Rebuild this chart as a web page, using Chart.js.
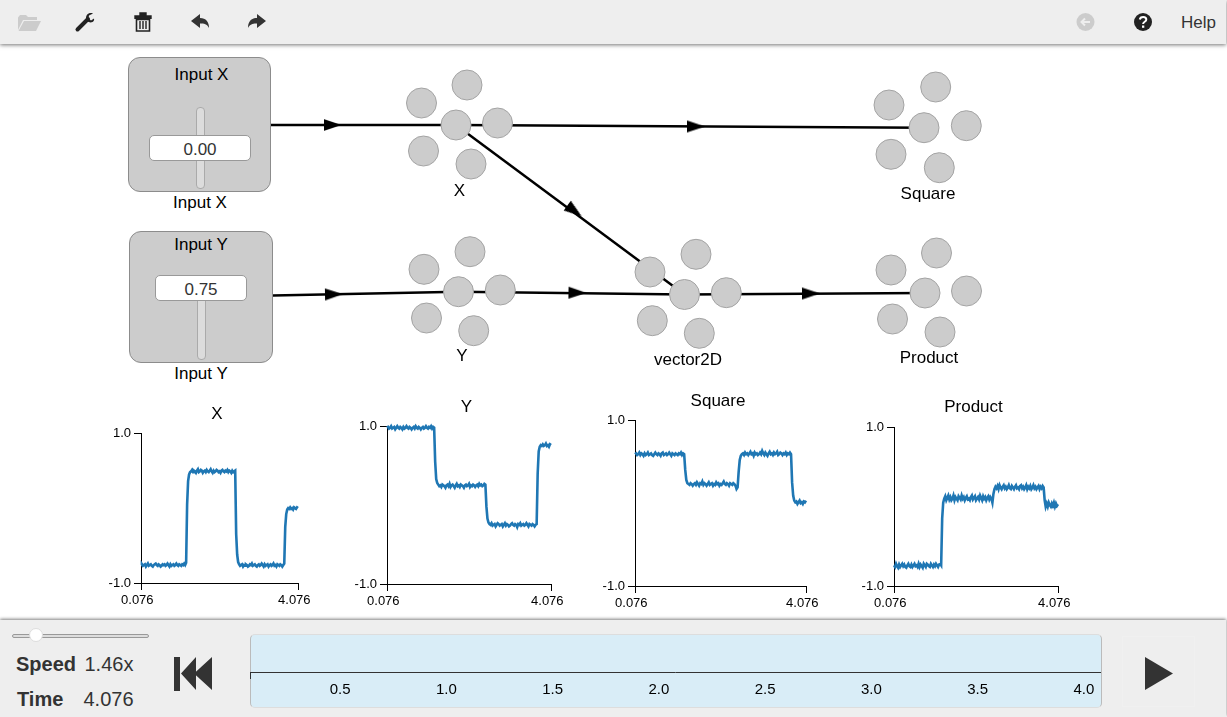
<!DOCTYPE html>
<html>
<head>
<meta charset="utf-8">
<title>Nengo</title>
<script src="https://cdn.jsdelivr.net/npm/chart.js@4"></script>
<style>
html,body{margin:0;padding:0;width:1227px;height:717px;overflow:hidden;background:#fff;font-family:"Liberation Sans",Arial,sans-serif;color:#000}
.abs{position:absolute}
.t{position:absolute;white-space:nowrap;transform:translate(-50%,-50%);line-height:1;font-size:17px}
.l{position:absolute;white-space:nowrap;transform:translateY(-50%);line-height:1;color:#333}
#top{position:absolute;left:0;top:0;width:1226px;height:44px;background:#eee;box-shadow:0 1px 4px rgba(0,0,0,.55)}
#bot{position:absolute;left:0;top:620px;width:1226px;height:97px;background:#eee;box-shadow:0 -1px 3px rgba(0,0,0,.5)}
.box{position:absolute;box-sizing:border-box;background:#ccc;border:1px solid #8c8c8c;border-radius:12px}
.track{position:absolute;box-sizing:border-box;background:#dcdcdc;border:1px solid #aaa;border-radius:4px}
.val{position:absolute;box-sizing:border-box;background:#fff;border:1px solid #999;border-radius:5px;text-align:center;font-size:17px;color:#333}
canvas{position:absolute;display:block}
</style>
</head>
<body>
<div id="top"></div>
<div id="bot"></div>

<svg class="abs" style="left:0;top:0" width="1227" height="717">
  <path d="M18 30V17.5L20 15h6l2 2h9v3H23z" fill="#ccc"/>
  <path d="M18.5 31L24 21h17l-5 10z" fill="#ccc"/>
  <path d="M77.5 29.5L88 19" stroke="#222" stroke-width="4" stroke-linecap="round" fill="none"/>
  <path d="M93 13.5c-3-1.5-7 .5-7 4.5 0 3 3.500 5.500 6.500 4 1-.5 2-1.500 1.500-3.500l-3 2-2.500-2 .5-3z" fill="#222"/>
  <path d="M135 16h16v2.200h-16z M140 16v-3h6v3" fill="#222" stroke="#222" stroke-width="1.400"/>
  <path d="M136.500 19.500h13V31h-13z" fill="none" stroke="#222" stroke-width="1.600"/>
  <path d="M140 21v8M143 21v8M146 21v8" stroke="#222" stroke-width="1.400"/>
  <path d="M191 21L200 14V18C206 18 209 22 209 28C207 24 204 23.500 200 23.500V28Z" fill="#333"/>
  <path d="M266 21L257 14V18C251 18 248 22 248 28C250 24 253 23.500 257 23.500V28Z" fill="#333"/>
  <circle cx="1085.500" cy="22" r="9" fill="#ccc"/>
  <path d="M1090 22h-8M1085 18.500L1081.500 22l3.500 3.500" stroke="#eee" stroke-width="2" fill="none"/>
  <circle cx="1143" cy="22" r="9" fill="#222"/>
  <path d="M1139.800 19.500c.5-3.500 6.500-3.500 6.500 0 0 2.500-3.200 2-3.200 4.500" stroke="#fff" stroke-width="2" fill="none"/>
  <path d="M1142 25.500h2.300v2.300H1142z" fill="#fff"/>
  <path d="M174 657h6v34h-6z M181 673.500L196 657V690Z M194 673.500L212 657V690Z" fill="#333"/>
  <path d="M1145 657L1173 673.500L1145 690Z" fill="#333"/>
</svg>

<div class="abs" style="left:1122px;top:636px;width:73px;height:71px;box-sizing:border-box;border:1px solid #f0f0f0"></div>
<div class="abs" style="left:12px;top:634px;width:137px;height:4px;box-sizing:border-box;background:#ddd;border:1px solid #999;border-radius:2px"></div>
<div class="abs" style="left:29px;top:628px;width:14px;height:14px;box-sizing:border-box;background:#fff;border:1px solid #ddd;border-radius:50%"></div>
<div class="l" style="left:16px;top:664px;font-size:20px;font-weight:bold">Speed</div>
<div class="l" style="left:84.500px;top:664px;font-size:20px">1.46x</div>
<div class="l" style="left:17px;top:699px;font-size:20px;font-weight:bold">Time</div>
<div class="l" style="left:83.500px;top:699px;font-size:20px">4.076</div>
<div class="l" style="left:1181px;top:22px;font-size:17px">Help</div>

<div class="abs" style="left:250px;top:634px;width:852px;height:74px;box-sizing:border-box;background:#d9edf7;border:1px solid #ddd;border-left-color:#bbb;border-right-color:#bbb;border-radius:5px"></div>

<div class="box" style="left:128px;top:57px;width:143px;height:135px"></div>
<div class="track" style="left:196px;top:107px;width:9px;height:82px"></div>
<div class="val" style="left:149px;top:135px;width:102px;height:26px;line-height:28px">0.00</div>
<div class="t" style="left:201.500px;top:74px">Input X</div>
<div class="t" style="left:200px;top:201.800px">Input X</div>

<div class="box" style="left:129px;top:231px;width:144px;height:132px"></div>
<div class="track" style="left:197px;top:296px;width:9px;height:64px"></div>
<div class="val" style="left:155px;top:275px;width:92px;height:26px;line-height:28px">0.75</div>
<div class="t" style="left:201px;top:244px">Input Y</div>
<div class="t" style="left:201px;top:372.800px">Input Y</div>

<canvas id="net" width="1227" height="717" style="left:0;top:0;pointer-events:none"></canvas>

<div class="t" style="left:459.500px;top:190.300px">X</div>
<div class="t" style="left:462px;top:355.300px">Y</div>
<div class="t" style="left:688px;top:359.300px">vector2D</div>
<div class="t" style="left:928px;top:192.800px">Square</div>
<div class="t" style="left:929px;top:356.800px">Product</div>

<canvas id="plotX"></canvas>
<canvas id="plotY"></canvas>
<canvas id="plotSquare"></canvas>
<canvas id="plotProduct"></canvas>
<canvas id="timeline"></canvas>

<script>
/* ---------- chart data ---------- */
const plotTitles = ["X", "Y", "Square", "Product"];
const yTickValues = [-1.0, 1.0];
const xTickValues = [0.076, 4.076];
const timelineTicks = [0.076, 0.5, 1.0, 1.5, 2.0, 2.5, 3.0, 3.5, 4.0];

const times = [
 0.076,0.101,0.126,0.151,0.176,0.201,0.226,0.251,0.276,0.301,
 0.326,0.351,0.376,0.401,0.426,0.451,0.476,0.501,0.526,0.551,
 0.576,0.601,0.626,0.651,0.676,0.701,0.726,0.751,0.776,0.801,
 0.826,0.851,0.876,0.901,0.926,0.951,0.976,1.001,1.026,1.051,
 1.076,1.101,1.126,1.151,1.176,1.201,1.226,
 1.251,1.276,1.301,1.326,1.351,1.376,1.401,1.426,1.451,1.476,
 1.501,1.526,1.551,1.576,1.601,1.626,1.651,1.676,1.701,1.726,
 1.751,1.776,1.801,1.826,1.851,1.876,1.901,1.926,1.951,1.976,
 2.001,2.026,2.051,2.076,2.101,2.126,2.151,2.176,2.201,2.226,
 2.251,2.276,2.301,2.326,2.351,2.376,2.401,2.426,2.451,2.476,
 2.501,2.526,2.551,2.576,2.601,2.626,2.651,2.676,2.701,2.726,
 2.751,2.776,2.801,2.826,2.851,2.876,2.901,2.926,2.951,2.976,
 3.001,3.026,3.051,3.076,3.101,3.126,3.151,3.176,3.201,3.226,
 3.251,3.276,3.301,3.326,3.351,3.376,3.401,3.426,3.451,3.476,
 3.501,3.526,3.551,3.576,3.601,3.626,3.651,3.676,3.701,3.726,
 3.751,3.776,3.801,3.826,3.851,3.876,3.901,3.926,3.951,3.976,4.001,4.026,4.051,4.076];

const seriesX = [
 -0.76,-0.75,-0.77,-0.76,-0.75,-0.78,-0.76,-0.74,-0.77,-0.76,
 -0.75,-0.77,-0.78,-0.76,-0.75,-0.74,-0.76,-0.77,-0.75,-0.76,
 -0.78,-0.77,-0.75,-0.76,-0.75,-0.77,-0.76,-0.74,-0.76,-0.78,
 -0.75,-0.77,-0.76,-0.75,-0.77,-0.76,-0.74,-0.76,-0.77,-0.75,
 -0.76,-0.77,-0.75,-0.76,-0.74,-0.76,-0.73,
 0.05,0.36,0.45,0.48,0.49,0.51,0.48,0.50,0.49,0.47,
 0.50,0.52,0.48,0.49,0.51,0.50,0.47,0.49,0.50,0.48,
 0.51,0.49,0.48,0.50,0.52,0.49,0.47,0.50,0.48,0.49,
 0.51,0.50,0.48,0.49,0.47,0.50,0.51,0.49,0.48,0.50,
 0.49,0.51,0.48,0.50,0.49,0.47,0.50,0.48,0.49,0.50,
 -0.35,-0.62,-0.72,-0.75,-0.77,-0.76,-0.75,-0.78,-0.76,-0.77,
 -0.75,-0.76,-0.78,-0.77,-0.75,-0.76,-0.74,-0.77,-0.76,-0.75,
 -0.77,-0.78,-0.76,-0.75,-0.77,-0.76,-0.74,-0.76,-0.78,-0.75,
 -0.77,-0.76,-0.75,-0.78,-0.76,-0.75,-0.77,-0.76,-0.74,-0.77,
 -0.76,-0.78,-0.75,-0.76,-0.77,-0.75,-0.76,-0.78,-0.76,-0.74,
 -0.25,-0.08,-0.02,0.00,-0.01,0.01,-0.01,0.00,-0.02,0.01,0.00,-0.01,0.01,0.00];

const seriesY = [
 0.98,0.99,0.97,0.98,1.00,0.97,0.98,0.99,0.96,0.98,
 1.00,0.98,0.97,0.99,0.98,0.96,0.99,0.97,0.98,1.00,
 0.98,0.97,0.99,0.98,0.96,0.98,0.99,0.97,1.00,0.98,
 0.97,0.99,0.98,0.96,0.98,0.99,0.97,0.98,1.00,0.98,
 0.97,0.99,0.98,1.00,0.97,0.99,0.98,
 0.55,0.33,0.28,0.26,0.24,0.25,0.23,0.26,0.25,0.24,
 0.22,0.25,0.26,0.24,0.27,0.23,0.25,0.26,0.24,0.22,
 0.25,0.27,0.24,0.25,0.23,0.26,0.25,0.24,0.22,0.25,
 0.26,0.24,0.25,0.27,0.23,0.25,0.24,0.26,0.25,0.23,
 0.25,0.26,0.24,0.27,0.25,0.26,0.24,0.25,0.27,0.26,
 -0.02,-0.17,-0.22,-0.24,-0.25,-0.23,-0.26,-0.25,-0.24,-0.27,
 -0.25,-0.23,-0.24,-0.26,-0.25,-0.24,-0.27,-0.25,-0.23,-0.26,
 -0.24,-0.25,-0.27,-0.26,-0.24,-0.23,-0.25,-0.26,-0.24,-0.25,
 -0.28,-0.24,-0.25,-0.23,-0.26,-0.25,-0.24,-0.26,-0.25,-0.23,
 -0.25,-0.27,-0.24,-0.25,-0.26,-0.24,-0.25,-0.27,-0.25,-0.24,
 0.40,0.68,0.74,0.76,0.75,0.77,0.75,0.76,0.78,0.75,0.76,0.74,0.77,0.76];

const seriesSquare = [
 0.59,0.60,0.58,0.59,0.61,0.58,0.60,0.59,0.57,0.60,
 0.58,0.59,0.61,0.58,0.59,0.60,0.58,0.57,0.59,0.61,
 0.59,0.58,0.60,0.59,0.57,0.60,0.61,0.58,0.59,0.60,
 0.58,0.59,0.61,0.59,0.57,0.60,0.59,0.58,0.60,0.59,
 0.58,0.60,0.59,0.61,0.58,0.60,0.59,
 0.40,0.28,0.24,0.23,0.22,0.24,0.23,0.21,0.23,0.24,
 0.22,0.25,0.23,0.21,0.24,0.23,0.26,0.22,0.24,0.23,
 0.21,0.23,0.25,0.22,0.23,0.24,0.21,0.23,0.22,0.25,
 0.23,0.24,0.21,0.23,0.22,0.24,0.26,0.23,0.22,0.24,
 0.23,0.21,0.24,0.23,0.22,0.24,0.23,0.21,0.17,0.19,
 0.38,0.52,0.57,0.59,0.60,0.58,0.61,0.59,0.60,0.58,
 0.60,0.62,0.59,0.60,0.57,0.61,0.59,0.60,0.58,0.59,
 0.61,0.59,0.63,0.60,0.58,0.61,0.59,0.57,0.60,0.62,
 0.59,0.60,0.58,0.61,0.59,0.60,0.62,0.58,0.59,0.61,
 0.60,0.58,0.60,0.59,0.61,0.58,0.60,0.59,0.61,0.59,
 0.25,0.09,0.03,0.01,0.02,-0.01,0.01,0.03,0.00,0.01,-0.01,0.02,0.01,0.03];

const seriesProduct = [
 -0.74,-0.76,-0.72,-0.75,-0.77,-0.73,-0.76,-0.74,-0.72,-0.75,
 -0.73,-0.76,-0.77,-0.74,-0.72,-0.75,-0.76,-0.73,-0.76,-0.74,
 -0.72,-0.75,-0.74,-0.76,-0.72,-0.76,-0.73,-0.75,-0.77,-0.72,
 -0.74,-0.76,-0.72,-0.73,-0.75,-0.76,-0.72,-0.74,-0.76,-0.73,
 -0.75,-0.72,-0.74,-0.76,-0.73,-0.72,-0.74,
 -0.15,0.05,0.10,0.13,0.08,0.11,0.14,0.09,0.12,0.08,
 0.10,0.14,0.08,0.12,0.10,0.08,0.13,0.11,0.09,0.14,
 0.10,0.12,0.08,0.11,0.13,0.09,0.10,0.08,0.12,0.14,
 0.09,0.11,0.13,0.08,0.10,0.12,0.09,0.14,0.11,0.08,
 0.13,0.10,0.12,0.08,0.11,0.13,0.09,0.12,0.10,0.05,
 0.16,0.22,0.25,0.23,0.26,0.22,0.27,0.24,0.22,0.25,
 0.27,0.23,0.25,0.22,0.24,0.27,0.23,0.22,0.26,0.24,
 0.22,0.25,0.27,0.23,0.24,0.22,0.26,0.27,0.23,0.25,
 0.22,0.24,0.27,0.22,0.25,0.23,0.26,0.22,0.24,0.27,
 0.23,0.25,0.22,0.24,0.26,0.22,0.25,0.23,0.26,0.24,
 0.08,0.00,0.04,0.00,0.05,0.02,0.00,0.04,0.01,0.05,0.00,0.04,0.01,0.03];

/* network diagram: ensemble members and connections, in diagram units */
const neuronX = [
 456,421.500,467,497.500,423.500,471,
 458.500,424,470,500.300,426.500,473.700,
 684.500,650,696,726.300,652.300,699.300,
 924,889,935.700,966.300,891,939.300,
 925,891,936.500,966.500,892.500,940];
const neuronY = [
 125,103,85,123,151,164,
 291.700,269.300,251.700,290,318,330.700,
 294.500,272,254.300,292.700,320.700,333.300,
 127.700,105,87,125.700,154.300,167.700,
 293,270,253,291,319,332];
const connections = [
 [[271,125],[456,125]],
 [[456,125],[924,127.700]],
 [[456,125],[684.500,294.500]],
 [[273,295.500],[458.500,291.700]],
 [[458.500,291.700],[684.500,294.500]],
 [[684.500,294.500],[925,293]]];
const arrowX = [332.500,696,574.500,334,577.500,811];
const arrowY = [125,126.500,211,294.300,292.800,293.500];
const arrowAngles = [0,0.3,36.6,-1,0.7,-0.3];

/* ---------- layout ---------- */
const plotBoxes = [
 {id:"plotX",       data:seriesX,       l:141, r:297.500, t:433, b:583, ty:414},
 {id:"plotY",       data:seriesY,       l:387, r:551,     t:426, b:584, ty:407},
 {id:"plotSquare",  data:seriesSquare,  l:635, r:806,     t:420, b:585.500, ty:401},
 {id:"plotProduct", data:seriesProduct, l:894, r:1057.500,t:427, b:586, ty:407}];

const FONT = '"Liberation Sans", Arial, sans-serif';
const TH = 20.4; // title line box for a 17px font

plotBoxes.forEach((p, i) => {
  const c = document.getElementById(p.id);
  const top = p.ty - TH / 2;
  const w = 40 + (p.r - p.l) + 35;
  const h = (p.b - top) + 30;
  c.width = Math.round(w); c.height = Math.round(h);
  c.style.left = (p.l - 40) + "px";
  c.style.top = top + "px";
  new Chart(c, {
    type: "line",
    data: { labels: times, datasets: [{ data: p.data, borderColor: "#1f77b4", borderWidth: 2.6, pointRadius: 0, tension: 0, clip: false }] },
    options: {
      responsive: false, animation: false, events: [],
      layout: { padding: 0 },
      plugins: {
        legend: { display: false }, tooltip: { enabled: false },
        title: { display: true, text: plotTitles[i], color: "#000", font: { family: FONT, size: 17, weight: "normal" },
                 padding: { top: 0, bottom: p.t - p.ty - TH / 2 } }
      },
      scales: {
        x: { type: "linear", min: 0.076, max: 4.076,
             afterFit: s => { s.height = 30; s.paddingRight = 35; },
             afterBuildTicks: s => { s.ticks = xTickValues.map(v => ({ value: v })); },
             border: { color: "#000", width: 1 },
             grid: { drawOnChartArea: false, drawTicks: true, tickLength: 7, color: "#000" },
             ticks: { autoSkip: false, maxRotation: 0, minRotation: 0, padding: 3, labelOffset: -3.700, color: "#000", font: { family: FONT, size: 13 },
                      callback: v => Number(v).toFixed(3) } },
        y: { type: "linear", min: -1, max: 1,
             afterFit: s => { s.width = 40; },
             afterBuildTicks: s => { s.ticks = yTickValues.map(v => ({ value: v })); },
             border: { color: "#000", width: 1 },
             grid: { drawOnChartArea: false, drawTicks: true, tickLength: 7, color: "#000" },
             ticks: { autoSkip: false, padding: 3, color: "#000", font: { family: FONT, size: 13 },
                      callback: v => Number(v).toFixed(1) } }
      }
    }
  });
});

/* timeline axis */
(function () {
  const c = document.getElementById("timeline");
  c.width = 880; c.height = 74;
  c.style.left = "240px"; c.style.top = "634px";
  new Chart(c, {
    type: "line",
    data: { labels: [], datasets: [] },
    options: {
      responsive: false, animation: false, events: [],
      layout: { autoPadding: false, padding: { left: 10, right: 20, top: 0, bottom: 0 } },
      plugins: { legend: { display: false }, tooltip: { enabled: false } },
      scales: {
        x: { type: "linear", min: 0.076, max: 4.076,
             afterFit: s => { s.height = 36; },
             afterBuildTicks: s => { s.ticks = timelineTicks.map(v => ({ value: v })); },
             border: { color: "#333", width: 1 },
             grid: { drawOnChartArea: false, drawTicks: true, tickLength: 7,
                     color: ctx => (ctx.index === 0 ? "#333" : "rgba(0,0,0,0)") },
             ticks: { autoSkip: false, maxRotation: 0, minRotation: 0, padding: 2, color: "#000", font: { family: FONT, size: 15 },
                      callback: (v, i) => (i === 0 ? "" : Number(v).toFixed(1)) } },
        y: { display: false, min: 0, max: 1 }
      }
    }
  });
})();

/* network diagram */
(function () {
  const arrow = document.createElement("canvas");
  arrow.width = 18; arrow.height = 12;
  const a = arrow.getContext("2d");
  a.fillStyle = "#000";
  a.beginPath(); a.moveTo(0, 0); a.lineTo(18, 6); a.lineTo(0, 12); a.closePath(); a.fill();

  const lineSets = connections.map(seg => ({
    type: "scatter", order: 3, showLine: true, borderColor: "#000", borderWidth: 2.5, pointRadius: 0,
    data: seg.map(q => ({ x: q[0], y: q[1] }))
  }));
  new Chart(document.getElementById("net"), {
    type: "scatter",
    data: { datasets: lineSets.concat([
      { order: 2, data: neuronX.map((x, i) => ({ x, y: neuronY[i] })), pointRadius: 15, pointBackgroundColor: "#ccc", pointBorderColor: "#a3a3a3", pointBorderWidth: 1 },
      { order: 1, data: arrowX.map((x, i) => ({ x, y: arrowY[i] })), pointRadius: 9, pointStyle: arrow, rotation: arrowAngles }
    ]) },
    options: {
      responsive: false, animation: false, events: [],
      layout: { autoPadding: false, padding: 0 },
      plugins: { legend: { display: false }, tooltip: { enabled: false } },
      scales: { x: { display: false, min: 0, max: 1227 }, y: { display: false, min: 0, max: 717, reverse: true } }
    }
  });
})();
</script>
</body>
</html>
